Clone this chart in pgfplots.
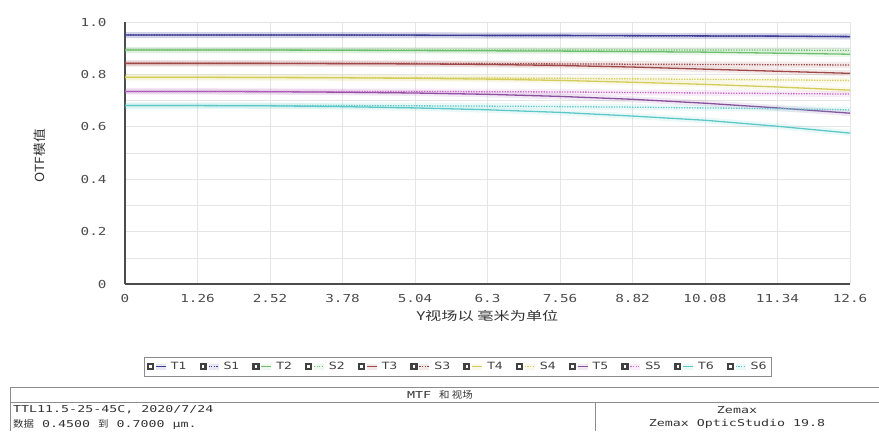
\documentclass[border=0pt]{standalone}
\usepackage{fontspec}
\setmainfont{DejaVu Sans Mono}
\newfontfamily\tickfont[FakeStretch=1.3]{DejaVu Sans Mono}
\newfontfamily\cjk[FakeStretch=1.35]{Noto Sans CJK SC}
\newfontfamily\cjkb[FakeStretch=1.1]{Noto Sans CJK SC}
\newfontfamily\legfont[FakeStretch=1.25]{DejaVu Sans}
\newfontfamily\botfont[FakeStretch=1.4]{DejaVu Sans Mono}
\usepackage{pgfplots}
\pgfplotsset{compat=1.18}
\definecolor{cT1}{HTML}{3C3C96}
\definecolor{cT2}{HTML}{6CBF6C}
\definecolor{cT3}{HTML}{A04848}
\definecolor{cT4}{HTML}{D4CC5A}
\definecolor{cT5}{HTML}{8A4E9E}
\definecolor{cS5}{HTML}{C865C8}
\definecolor{cT6}{HTML}{5CC8C8}
\definecolor{iconc}{HTML}{404040}
\pgfplotsset{
  tser/.style={draw=#1, line width=1.3bp, preaction={draw=#1, solid, line width=6bp, opacity=0.12}},
  sser/.style={draw=#1, line width=1.3bp, dash pattern=on 1.3bp off 1.3bp, preaction={draw=#1, solid, line width=6bp, opacity=0.12}},
}
\begin{document}
\begin{tikzpicture}[x=1bp,y=1bp]
\path[use as bounding box] (0,0) rectangle (879,431);
\begin{axis}[
  at={(125bp,147bp)}, anchor=south west,
  width=725bp, height=262bp, scale only axis,
  xmin=0, xmax=12.6, ymin=0, ymax=1.0,
  xtick={0,1.26,2.52,3.78,5.04,6.3,7.56,8.82,10.08,11.34,12.6},
  xticklabels={0,1.26,2.52,3.78,5.04,6.3,7.56,8.82,10.08,11.34,12.6},
  ytick={0,0.2,0.4,0.6,0.8,1.0},
  yticklabels={0,0.2,0.4,0.6,0.8,1.0},
  minor ytick={0.1,0.3,0.5,0.7,0.9},
  grid=both,
  major grid style={draw=black!10, line width=0.6bp},
  minor grid style={draw=black!10, line width=0.6bp},
  axis x line*=bottom, axis y line*=left,
  axis line style={draw=black!70, line width=2.4bp, -},
  major tick length=0pt, minor tick length=0pt,
  tick label style={font=\tickfont\fontsize{11bp}{12bp}\selectfont, text=black!70},
  xticklabel style={yshift=-7bp},
  yticklabel style={xshift=-15bp},
  /pgf/number format/assume math mode=true,
  xlabel={\cjk Y视场以 毫米为单位},
  xlabel style={at={(rel axis cs:0.5,-0.122)}, anchor=center, font=\fontsize{12bp}{13bp}\selectfont, text=black!80},
  ylabel={\cjkb OTF模值},
  ylabel style={at={(rel axis cs:-0.117,0.49)}, anchor=center, rotate=0, font=\fontsize{12.5bp}{13bp}\selectfont, text=black!80},
  legend columns=12,
  legend style={at={(rel axis cs:0.459,-0.315)}, anchor=center, draw=black!45, fill=white,
    font=\legfont\fontsize{10bp}{11bp}\selectfont, text=black!75, inner sep=3bp,
    /tikz/every even column/.append style={column sep=11bp}},
  legend image code/.code={
    \begin{pgfscope}
    \pgfsetfillcolor{iconc}
    \pgfpathrectangle{\pgfpoint{0bp}{-3.6bp}}{\pgfpoint{7.2bp}{7.2bp}}
    \pgfusepath{fill}
    \pgfsetfillcolor{white}
    \pgfpathrectangle{\pgfpoint{2.4bp}{-1.2bp}}{\pgfpoint{2.4bp}{2.4bp}}
    \pgfusepath{fill}
    \end{pgfscope}
    \draw[#1, line width=0.9bp] (9bp,0bp) -- (19bp,0bp);
  },
]
\addplot[tser=cT1] coordinates {(0,0.950) (1.26,0.950) (2.52,0.950) (3.78,0.950) (5.04,0.950) (6.3,0.949) (7.56,0.949) (8.82,0.948) (10.08,0.947) (11.34,0.946) (12.6,0.944)};
\addlegendentry{T1}
\addplot[sser=cT1] coordinates {(0,0.950) (1.26,0.950) (2.52,0.950) (3.78,0.950) (5.04,0.949) (6.3,0.948) (7.56,0.948) (8.82,0.947) (10.08,0.946) (11.34,0.946) (12.6,0.945)};
\addlegendentry{S1}
\addplot[tser=cT2] coordinates {(0,0.893) (1.26,0.893) (2.52,0.893) (3.78,0.892) (5.04,0.891) (6.3,0.890) (7.56,0.889) (8.82,0.887) (10.08,0.885) (11.34,0.881) (12.6,0.877)};
\addlegendentry{T2}
\addplot[sser=cT2] coordinates {(0,0.893) (1.26,0.893) (2.52,0.893) (3.78,0.893) (5.04,0.893) (6.3,0.893) (7.56,0.893) (8.82,0.893) (10.08,0.893) (11.34,0.893) (12.6,0.892)};
\addlegendentry{S2}
\addplot[tser=cT3] coordinates {(0,0.842) (1.26,0.842) (2.52,0.842) (3.78,0.841) (5.04,0.840) (6.3,0.838) (7.56,0.834) (8.82,0.828) (10.08,0.820) (11.34,0.812) (12.6,0.804)};
\addlegendentry{T3}
\addplot[sser=cT3] coordinates {(0,0.842) (1.26,0.842) (2.52,0.842) (3.78,0.842) (5.04,0.842) (6.3,0.841) (7.56,0.840) (8.82,0.839) (10.08,0.838) (11.34,0.837) (12.6,0.836)};
\addlegendentry{S3}
\addplot[tser=cT4] coordinates {(0,0.789) (1.26,0.789) (2.52,0.788) (3.78,0.787) (5.04,0.785) (6.3,0.782) (7.56,0.777) (8.82,0.770) (10.08,0.762) (11.34,0.752) (12.6,0.740)};
\addlegendentry{T4}
\addplot[sser=cT4] coordinates {(0,0.789) (1.26,0.789) (2.52,0.789) (3.78,0.788) (5.04,0.787) (6.3,0.786) (7.56,0.785) (8.82,0.783) (10.08,0.781) (11.34,0.779) (12.6,0.777)};
\addlegendentry{S4}
\addplot[tser=cT5] coordinates {(0,0.735) (1.26,0.735) (2.52,0.734) (3.78,0.732) (5.04,0.729) (6.3,0.724) (7.56,0.716) (8.82,0.705) (10.08,0.690) (11.34,0.672) (12.6,0.652)};
\addlegendentry{T5}
\addplot[sser=cS5] coordinates {(0,0.735) (1.26,0.735) (2.52,0.735) (3.78,0.735) (5.04,0.735) (6.3,0.734) (7.56,0.733) (8.82,0.731) (10.08,0.729) (11.34,0.727) (12.6,0.725)};
\addlegendentry{S5}
\addplot[tser=cT6] coordinates {(0,0.681) (1.26,0.681) (2.52,0.680) (3.78,0.677) (5.04,0.672) (6.3,0.665) (7.56,0.655) (8.82,0.641) (10.08,0.625) (11.34,0.602) (12.6,0.576)};
\addlegendentry{T6}
\addplot[sser=cT6] coordinates {(0,0.681) (1.26,0.681) (2.52,0.681) (3.78,0.681) (5.04,0.680) (6.3,0.679) (7.56,0.677) (8.82,0.675) (10.08,0.672) (11.34,0.669) (12.6,0.665)};
\addlegendentry{S6}
\end{axis}
% bottom info table
\draw[black!45, line width=0.7bp] (10,44) -- (879,44);
\draw[black!45, line width=0.7bp] (10,44) -- (10,0);
\draw[black!45, line width=0.7bp] (10,29) -- (879,29);
\draw[black!45, line width=0.7bp] (595,29) -- (595,0);
\begin{scope}[every node/.style={font=\botfont\fontsize{9.5bp}{10bp}\selectfont, text=black!80, inner sep=0pt}]
\node at (440,36.5) {MTF {\cjkb 和 视场}};
\node[anchor=west] at (13,21) {TTL11.5-25-45C, 2020/7/24};
\node[anchor=west] at (13,7) {{\cjkb 数据} 0.4500 {\cjkb 到} 0.7000 μm.};
\node at (737,21) {Zemax};
\node at (737,7) {Zemax OpticStudio 19.8};
\end{scope}
\end{tikzpicture}
\end{document}
